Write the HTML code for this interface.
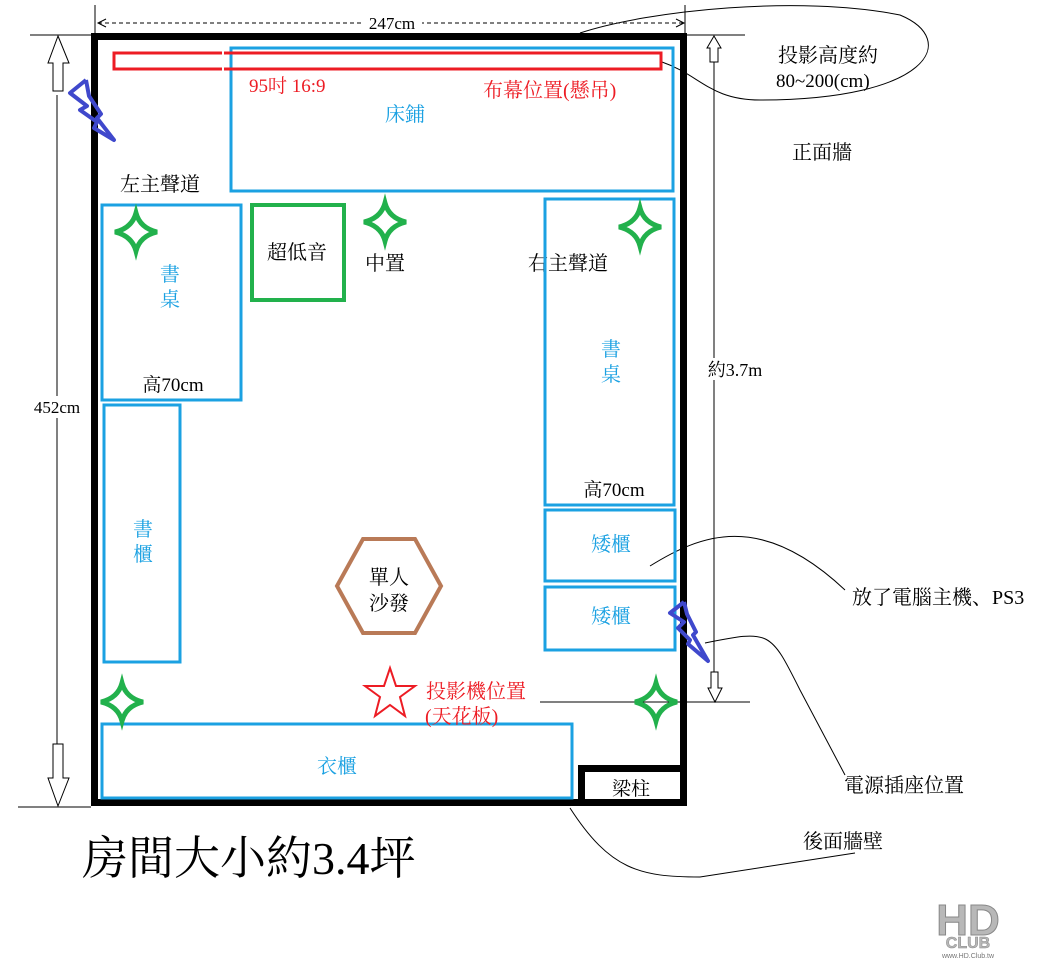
<!DOCTYPE html>
<html><head><meta charset="utf-8"><style>
html,body{margin:0;padding:0;background:#fff;}
svg{display:block;font-family:"Liberation Serif","Noto Serif CJK SC","Noto Sans CJK TC",serif;}
</style></head><body>
<svg width="1062" height="975" viewBox="0 0 1062 975" xmlns="http://www.w3.org/2000/svg">
<rect width="1062" height="975" fill="#fff"/>
<line x1="95" y1="5" x2="95" y2="33" stroke="#000"/>
<line x1="685" y1="5" x2="685" y2="33" stroke="#000"/>
<line x1="98" y1="23" x2="683" y2="23" stroke="#000" stroke-dasharray="4,3"/>
<polyline points="106,19 98,23 106,27" fill="none" stroke="#000"/>
<polyline points="676,19 684,23 676,27" fill="none" stroke="#000"/>
<rect x="362" y="13" width="60" height="20" fill="#fff"/>
<text x="392" y="29" font-size="17" text-anchor="middle">247cm</text>
<line x1="30" y1="35" x2="91" y2="35" stroke="#000"/>
<line x1="18" y1="807" x2="91" y2="807" stroke="#000"/>
<line x1="57" y1="95" x2="57" y2="745" stroke="#000"/>
<polygon points="58,36 69,63 63,63 63,91 53,91 53,63 48,63" fill="#fff" stroke="#000"/>
<polygon points="58,806 69,778 63,778 63,744 53,744 53,778 48,778" fill="#fff" stroke="#000"/>
<rect x="28" y="396" width="58" height="22" fill="#fff"/>
<text x="57" y="413" font-size="17" text-anchor="middle">452cm</text>
<line x1="680" y1="35" x2="745" y2="35" stroke="#000"/>
<line x1="540" y1="702" x2="750" y2="702" stroke="#000"/>
<line x1="714" y1="62" x2="714" y2="672" stroke="#000"/>
<polygon points="714,36 721,48 718,48 718,62 710,62 710,48 707,48" fill="#fff" stroke="#000"/>
<polygon points="715,702 722,688 718,688 718,672 711,672 711,688 708,688" fill="#fff" stroke="#000"/>
<rect x="700" y="358" width="66" height="22" fill="#fff"/>
<text x="735" y="376" font-size="18" text-anchor="middle">約3.7m</text>
<path d="M580 33 C650 10 800 -5 900 15 C960 40 930 100 760 100 C710 100 700 75 662 62" fill="none" stroke="#000"/>
<path d="M650 566 C700 535 760 510 845 590" fill="none" stroke="#000"/>
<path d="M705 643 C770 630 770 630 800 690 L845 775" fill="none" stroke="#000"/>
<path d="M570 808 C610 870 640 877 700 877 L855 853" fill="none" stroke="#000"/>
<rect x="94.5" y="36.5" width="589" height="766" fill="none" stroke="#000" stroke-width="7"/>
<rect x="581.5" y="768.5" width="102" height="34" fill="#fff" stroke="#000" stroke-width="7"/>
<text x="631" y="795" font-size="19" text-anchor="middle">梁柱</text>
<rect x="231" y="48" width="442" height="143" fill="none" stroke="#1ba1e2" stroke-width="3"/>
<rect x="114" y="53" width="547" height="16" fill="none" stroke="#ed1c24" stroke-width="3"/>
<line x1="223" y1="51" x2="223" y2="71" stroke="#fff" stroke-width="2"/>
<text x="249" y="92" font-size="19" fill="#ed1c24">95吋 16:9</text>
<text x="483" y="97" font-size="20" fill="#ed1c24">布幕位置(懸吊)</text>
<text x="405" y="121" font-size="20" fill="#1ba1e2" text-anchor="middle">床鋪</text>
<rect x="102" y="205" width="139" height="195" fill="none" stroke="#1ba1e2" stroke-width="3"/>
<text x="170" y="281" font-size="20" fill="#1ba1e2" text-anchor="middle">書</text>
<text x="170" y="306" font-size="20" fill="#1ba1e2" text-anchor="middle">桌</text>
<text x="173" y="391" font-size="19" text-anchor="middle">高70cm</text>
<rect x="252" y="205" width="92" height="95" fill="none" stroke="#22b14c" stroke-width="4"/>
<text x="297" y="259" font-size="20" text-anchor="middle">超低音</text>
<text x="385" y="270" font-size="20" text-anchor="middle">中置</text>
<text x="160" y="191" font-size="20" text-anchor="middle">左主聲道</text>
<text x="568" y="270" font-size="20" text-anchor="middle">右主聲道</text>
<rect x="545" y="199" width="129" height="306" fill="none" stroke="#1ba1e2" stroke-width="3"/>
<text x="611" y="356" font-size="20" fill="#1ba1e2" text-anchor="middle">書</text>
<text x="611" y="381" font-size="20" fill="#1ba1e2" text-anchor="middle">桌</text>
<text x="614" y="496" font-size="19" text-anchor="middle">高70cm</text>
<rect x="104" y="405" width="76" height="257" fill="none" stroke="#1ba1e2" stroke-width="3"/>
<text x="143" y="536" font-size="20" fill="#1ba1e2" text-anchor="middle">書</text>
<text x="143" y="561" font-size="20" fill="#1ba1e2" text-anchor="middle">櫃</text>
<rect x="545" y="510" width="130" height="71" fill="none" stroke="#1ba1e2" stroke-width="3"/>
<text x="611" y="551" font-size="20" fill="#1ba1e2" text-anchor="middle">矮櫃</text>
<rect x="545" y="587" width="130" height="63" fill="none" stroke="#1ba1e2" stroke-width="3"/>
<text x="611" y="623" font-size="20" fill="#1ba1e2" text-anchor="middle">矮櫃</text>
<rect x="102" y="724" width="470" height="74" fill="none" stroke="#1ba1e2" stroke-width="3"/>
<text x="337" y="773" font-size="20" fill="#1ba1e2" text-anchor="middle">衣櫃</text>
<polygon points="337,586 363,539 415,539 441,586 415,633 363,633" fill="none" stroke="#b97a57" stroke-width="4"/>
<text x="389" y="584" font-size="20" text-anchor="middle">單人</text>
<text x="389" y="610" font-size="20" text-anchor="middle">沙發</text>
<polygon points="390,668 396,686 415,686 400,697 405,716 390,705 375,716 380,697 365,686 384,686" fill="none" stroke="#ed1c24" stroke-width="2"/>
<text x="426" y="698" font-size="20" fill="#ed1c24">投影機位置</text>
<text x="425" y="723" font-size="20" fill="#ed1c24">(天花板)</text>
<g fill="none" stroke="#22b14c" stroke-width="5">
<path d="M0,-19 Q4,-4 21,0 Q4,4 0,19 Q-4,4 -21,0 Q-4,-4 0,-19Z" transform="translate(136,232)"/>
<path d="M0,-19 Q4,-4 21,0 Q4,4 0,19 Q-4,4 -21,0 Q-4,-4 0,-19Z" transform="translate(385,222)"/>
<path d="M0,-19 Q4,-4 21,0 Q4,4 0,19 Q-4,4 -21,0 Q-4,-4 0,-19Z" transform="translate(640,227)"/>
<path d="M0,-19 Q4,-4 21,0 Q4,4 0,19 Q-4,4 -21,0 Q-4,-4 0,-19Z" transform="translate(122,702)"/>
<path d="M0,-19 Q4,-4 21,0 Q4,4 0,19 Q-4,4 -21,0 Q-4,-4 0,-19Z" transform="translate(656,702)"/>
</g>
<g fill="none" stroke="#3f48cc" stroke-width="4" stroke-linejoin="round">
<polyline points="86,80 70,93 87,106 80,110 97,122 94,128 114,140 97,118 101,114 89,96 86,80"/>
<polyline points="684,602 670,613 684,622 678,628 690,640 688,644 708,661 693,635 696,632 687,614 684,602"/>
</g>
<text x="778" y="62" font-size="20">投影高度約</text>
<text x="776" y="87" font-size="19">80~200(cm)</text>
<text x="792" y="159" font-size="20">正面牆</text>
<text x="852" y="604" font-size="20">放了電腦主機、PS3</text>
<text x="844" y="792" font-size="20">電源插座位置</text>
<text x="803" y="848" font-size="20">後面牆壁</text>
<text x="82" y="874" font-size="46">房間大小約3.4坪</text>
<text x="968" y="935" font-size="44" font-weight="bold" fill="#b8b8b8" stroke="#888" stroke-width="1" text-anchor="middle" font-family="Liberation Sans,sans-serif">HD</text>
<text x="968" y="948" font-size="16" font-weight="bold" fill="#b8b8b8" stroke="#888" stroke-width="0.5" text-anchor="middle" font-family="Liberation Sans,sans-serif">CLUB</text>
<text x="968" y="958" font-size="7" fill="#777" text-anchor="middle" font-family="Liberation Sans,sans-serif">www.HD.Club.tw</text>
</svg>
</body></html>
